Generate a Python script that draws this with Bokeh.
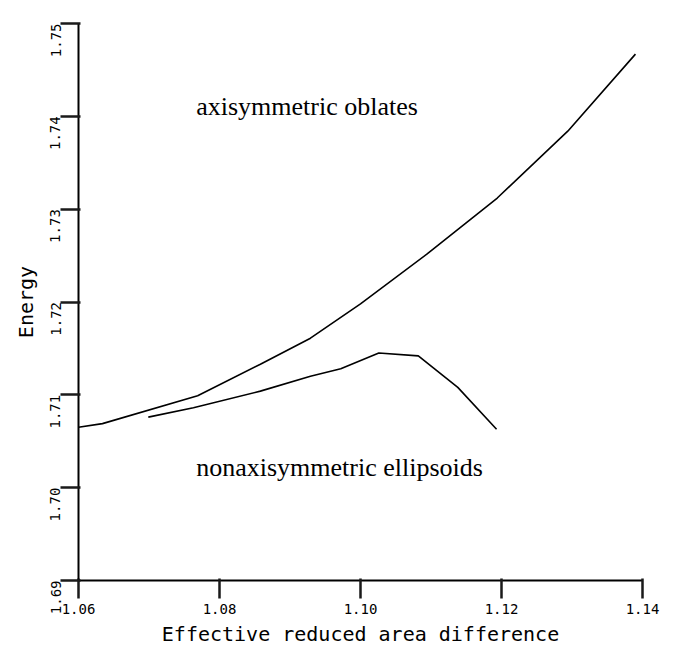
import math
from bokeh.plotting import figure
from bokeh.models import Range1d, FixedTicker, Label
from bokeh.embed import file_html
from bokeh.resources import INLINE

# ---- data ----
x_ticks = [1.06, 1.08, 1.10, 1.12, 1.14]
x_tick_labels = ["1.06", "1.08", "1.10", "1.12", "1.14"]
y_ticks = [1.69, 1.70, 1.71, 1.72, 1.73, 1.74, 1.75]
y_tick_labels = ["1.69", "1.70", "1.71", "1.72", "1.73", "1.74", "1.75"]

oblate_x = [1.0600, 1.0634, 1.0769, 1.0858, 1.0929, 1.1000, 1.1095, 1.1194, 1.1294, 1.1390]
oblate_y = [1.7065, 1.7069, 1.7099, 1.7133, 1.7161, 1.7198, 1.7252, 1.7312, 1.7384, 1.7467]

ellipsoid_x = [1.0699, 1.0763, 1.0858, 1.0929, 1.0972, 1.1026, 1.1082, 1.1138, 1.1193]
ellipsoid_y = [1.7076, 1.7086, 1.7104, 1.7120, 1.7128, 1.7145, 1.7142, 1.7108, 1.7063]

oblate_name = "axisymmetric oblates"
ellipsoid_name = "nonaxisymmetric ellipsoids"

# ---- figure ----
p = figure(frame_width=564, frame_height=557, output_backend="svg", toolbar_location=None,
           x_range=Range1d(1.06, 1.14), y_range=Range1d(1.69, 1.75),
           min_border_left=78, min_border_right=30, min_border_top=23, min_border_bottom=62)
p.outline_line_color = None
p.grid.visible = False

p.line(oblate_x, oblate_y, line_color="black", line_width=1.6)
p.line(ellipsoid_x, ellipsoid_y, line_color="black", line_width=1.6)

mono = "DejaVu Sans Mono"

p.xaxis.ticker = FixedTicker(ticks=x_ticks)
p.xaxis.major_label_overrides = dict(zip(x_ticks, x_tick_labels))
p.yaxis.ticker = FixedTicker(ticks=y_ticks)
p.yaxis.major_label_overrides = dict(zip(y_ticks, y_tick_labels))

for ax in (p.xaxis, p.yaxis):
    ax.axis_line_width = 2
    ax.axis_line_color = "black"
    ax.major_tick_line_color = "#1a1a1a"
    ax.major_tick_line_width = 2.5
    ax.major_tick_in = 2
    ax.major_tick_out = 18
    ax.major_label_text_font = mono
    ax.major_label_text_font_size = "14px"
    ax.major_label_text_color = "black"
    ax.axis_label_text_font = mono
    ax.axis_label_text_font_size = "20px"
    ax.axis_label_text_font_style = "normal"
    ax.axis_label_text_color = "black"

p.xaxis.axis_label = "Effective reduced area difference"
p.yaxis.axis_label = "Energy"
p.yaxis.major_label_orientation = math.pi / 2

p.add_layout(Label(x=1.0767, y=1.7411, text=oblate_name, text_font="Liberation Serif",
                   text_font_size="26px", text_baseline="alphabetic", text_color="black"))
p.add_layout(Label(x=1.0767, y=1.7022, text=ellipsoid_name, text_font="Liberation Serif",
                   text_font_size="26px", text_baseline="alphabetic", text_color="black"))

open("out.html", "w").write(file_html(p, INLINE))
